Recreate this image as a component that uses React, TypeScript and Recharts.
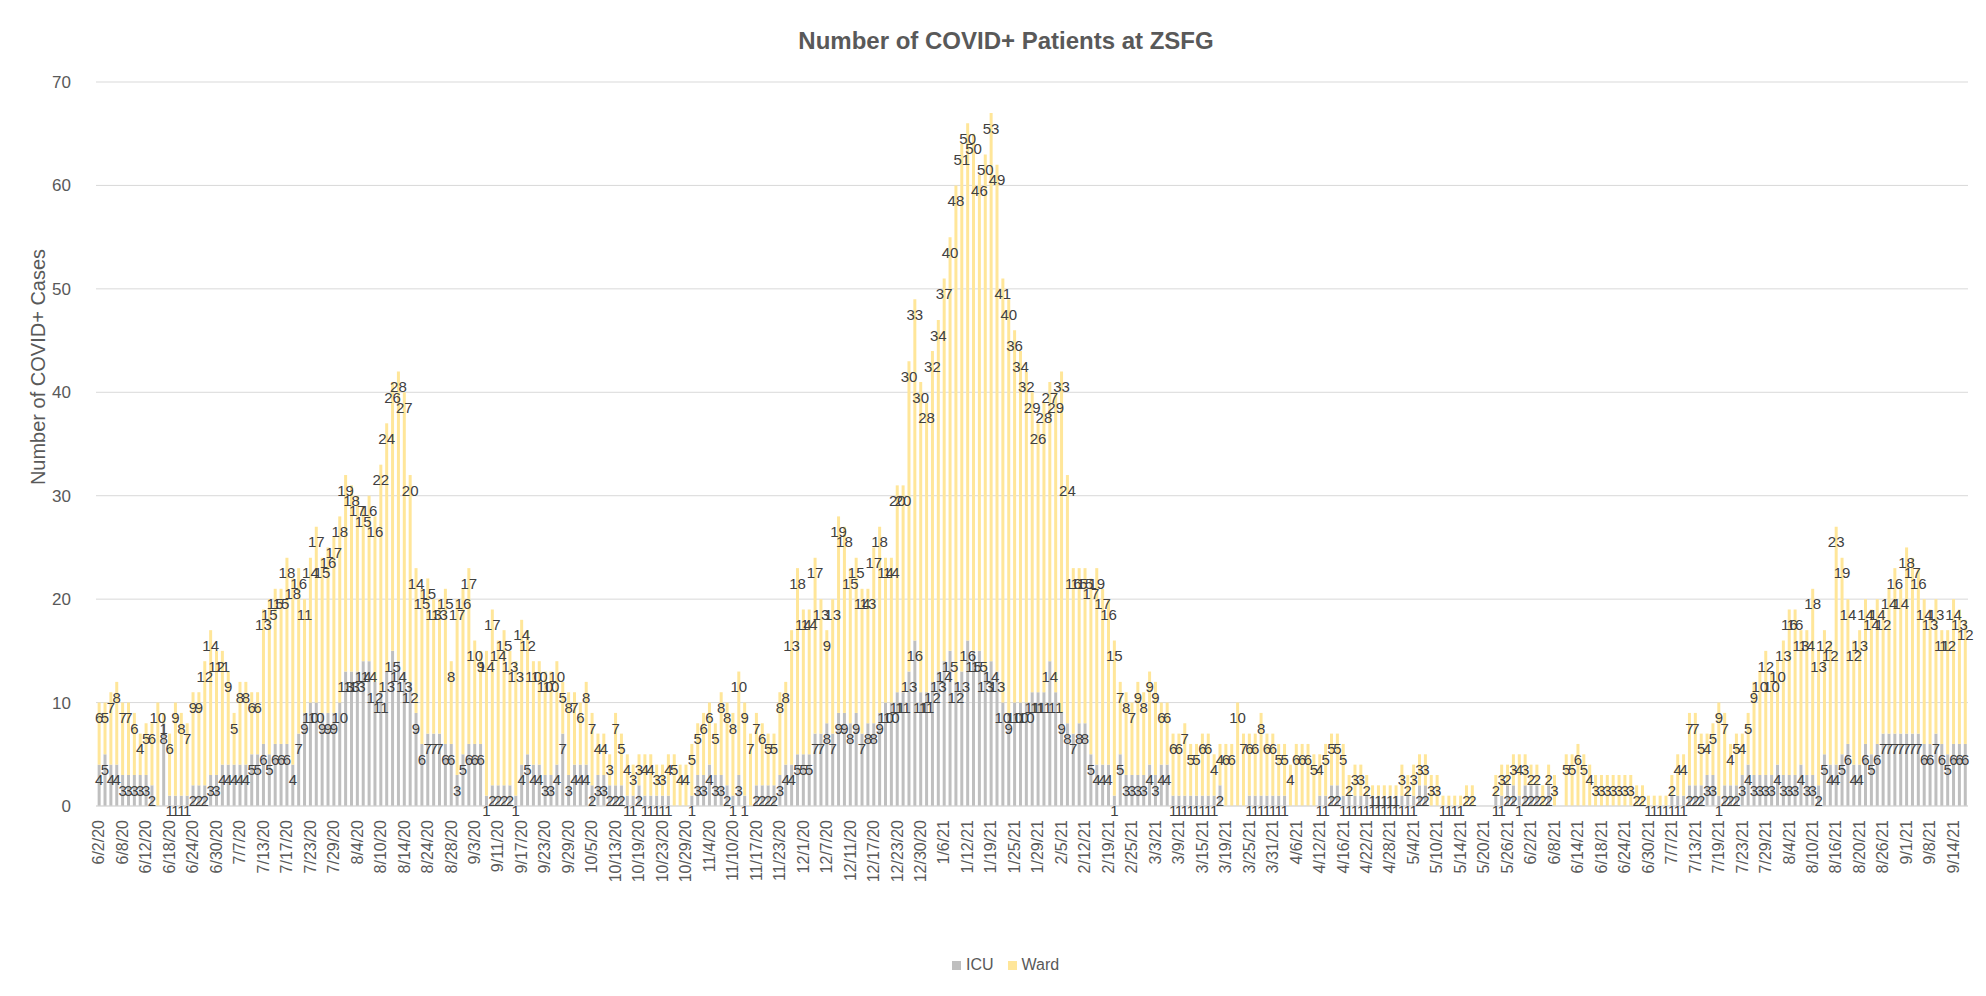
import { BarChart, Bar, XAxis, YAxis, CartesianGrid, LabelList } from 'recharts';

// weekdays from 6/2/20 to 9/16/21, minus days with no report
const firstDay = Date.UTC(2020, 5, 2);
const lastDay = Date.UTC(2021, 8, 16);
const skippedDays = [
  '2020-07-03', '2020-08-17', '2020-08-18', '2020-09-04', '2020-09-07', '2020-10-09', '2020-10-12',
  '2020-11-11', '2020-11-26', '2020-11-27', '2020-12-25', '2021-01-01', '2021-01-18', '2021-02-04',
  '2021-02-11', '2021-02-15', '2021-05-31', '2021-07-05', '2021-09-06',
];

const icu = [
  4, 5, 4, 4, 3, 3, 3, 3, 3, 2,
  0, 8, 1, 1, 1, 1, 2, 2, 2, 3,
  3, 4, 4, 4, 4, 4, 5, 5, 6, 5,
  6, 6, 6, 4, 7, 9, 10, 10, 9, 9,
  9, 10, 13, 13, 13, 14, 14, 12, 11, 13,
  15, 14, 13, 12, 9, 6, 7, 7, 7, 6,
  6, 3, 5, 6, 6, 6, 1, 2, 2, 2,
  2, 1, 4, 5, 4, 4, 3, 3, 4, 7,
  3, 4, 4, 4, 2, 3, 3, 2, 2, 2,
  1, 1, 2, 1, 1, 1, 1, 1, 0, 0,
  0, 1, 3, 3, 4, 3, 3, 2, 1, 3,
  1, 0, 2, 2, 2, 2, 3, 4, 4, 5,
  5, 5, 7, 7, 8, 7, 9, 9, 8, 9,
  7, 8, 8, 9, 10, 10, 11, 11, 13, 16,
  11, 11, 12, 13, 14, 15, 12, 13, 16, 15,
  15, 13, 14, 13, 10, 9, 10, 10, 10, 11,
  11, 11, 14, 11, 9, 8, 7, 8, 8, 5,
  4, 4, 4, 1, 5, 3, 3, 3, 3, 4,
  3, 4, 4, 1, 1, 1, 1, 1, 1, 1,
  1, 2, 0, 0, 0, 0, 1, 1, 1, 1,
  1, 1, 1, 0, 0, 0, 0, 0, 1, 1,
  2, 2, 1, 1, 1, 1, 1, 1, 1, 1,
  1, 1, 1, 1, 1, 2, 2, 0, 0, 0,
  0, 0, 0, 0, 0, 0, 0, 0, 1, 1,
  2, 2, 1, 2, 2, 2, 0, 2, 0, 0,
  0, 0, 0, 0, 0, 0, 0, 0, 0, 0,
  0, 0, 0, 0, 0, 0, 0, 0, 1, 1,
  1, 2, 2, 2, 3, 3, 1, 2, 2, 2,
  3, 4, 3, 3, 3, 3, 4, 3, 3, 3,
  4, 3, 3, 2, 5, 4, 4, 5, 6, 4,
  4, 6, 5, 6, 7, 7, 7, 7, 7, 7,
  7, 6, 6, 7, 6, 5, 6, 6, 6,
];

const ward = [
  6, 5, 7, 8, 7, 7, 6, 4, 5, 6,
  10, 1, 6, 9, 8, 7, 9, 9, 12, 14,
  12, 11, 9, 5, 8, 8, 6, 6, 13, 15,
  15, 15, 18, 18, 16, 11, 14, 17, 15, 16,
  17, 18, 19, 18, 17, 15, 16, 16, 22, 24,
  26, 28, 27, 20, 14, 15, 15, 13, 13, 15,
  8, 17, 16, 17, 10, 9, 14, 17, 14, 15,
  13, 13, 14, 12, 10, 10, 10, 10, 10, 5,
  8, 7, 6, 8, 7, 4, 4, 3, 7, 5,
  4, 3, 3, 4, 4, 3, 3, 4, 5, 4,
  4, 5, 5, 6, 6, 5, 8, 8, 8, 10,
  9, 7, 7, 6, 5, 5, 8, 8, 13, 18,
  14, 14, 17, 13, 9, 13, 19, 18, 15, 15,
  14, 13, 17, 18, 14, 14, 20, 20, 30, 33,
  30, 28, 32, 34, 37, 40, 48, 51, 50, 50,
  46, 50, 53, 49, 41, 40, 36, 34, 32, 29,
  26, 28, 27, 29, 33, 24, 16, 15, 15, 17,
  19, 17, 16, 15, 7, 8, 7, 9, 8, 9,
  9, 6, 6, 6, 6, 7, 5, 5, 6, 6,
  4, 4, 6, 6, 10, 7, 6, 6, 8, 6,
  6, 5, 5, 4, 6, 6, 6, 5, 4, 5,
  5, 5, 5, 2, 3, 3, 2, 1, 1, 1,
  1, 1, 3, 2, 3, 3, 3, 3, 3, 1,
  1, 1, 1, 2, 2, 0, 0, 0, 2, 3,
  2, 3, 4, 3, 2, 2, 2, 2, 3, 0,
  5, 5, 6, 5, 4, 3, 3, 3, 3, 3,
  3, 3, 2, 2, 1, 1, 1, 1, 2, 4,
  4, 7, 7, 5, 4, 5, 9, 7, 4, 5,
  4, 5, 9, 10, 12, 10, 10, 13, 16, 16,
  13, 14, 18, 13, 12, 12, 23, 19, 14, 12,
  13, 14, 14, 14, 12, 14, 16, 14, 18, 17,
  16, 14, 13, 13, 11, 12, 14, 13, 12,
];

const yTicks = [0, 10, 20, 30, 40, 50, 60, 70];

const dates: string[] = [];
for (let t = firstDay; t <= lastDay; t += 86400000) {
  const d = new Date(t);
  const dow = d.getUTCDay();
  if (dow === 0 || dow === 6) continue;
  if (skippedDays.includes(d.toISOString().slice(0, 10))) continue;
  dates.push(`${d.getUTCMonth() + 1}/${d.getUTCDate()}/${String(d.getUTCFullYear()).slice(2)}`);
}

const data = dates.map((date, i) => ({ date, ICU: icu[i] ?? 0, Ward: ward[i] ?? 0 }));

const font = "'Liberation Sans', Arial, sans-serif";

const DateTick = ({ x, y, payload }: any) => (
  <text
    x={x}
    y={y + 14}
    transform={`rotate(-90 ${x} ${y + 14})`}
    textAnchor="end"
    dominantBaseline="central"
    fontSize={16}
    fontFamily={font}
    fill="#595959"
  >
    {payload.value}
  </text>
);

const App = () => {
  return (
    <div style={{ position: 'relative', width: 1970, height: 985, fontFamily: font, background: '#fff' }}>
      <div
        style={{
          position: 'absolute', left: 0, width: 1996, top: 19, textAlign: 'center',
          fontSize: 24, fontWeight: 'bold', color: '#595959',
        }}
      >
        Number of COVID+ Patients at ZSFG
      </div>
      <div
        style={{
          position: 'absolute', left: 30, top: 359, transform: 'translate(-50%, -50%) rotate(-90deg)',
          whiteSpace: 'nowrap', fontSize: 20, color: '#595959',
        }}
      >
        Number of COVID+ Cases
      </div>
      <BarChart
        width={1970}
        height={985}
        data={data}
        margin={{ top: 74, right: 10, left: 28, bottom: 87 }}
        barCategoryGap="28%"
      >
        <CartesianGrid vertical={false} stroke="#d9d9d9" />
        <XAxis
          dataKey="date"
          interval={3}
          tick={<DateTick />}
          tickLine={false}
          tickSize={0}
          tickMargin={0}
          height={100}
          axisLine={{ stroke: '#d9d9d9' }}
        />
        <YAxis
          domain={[0, 70]}
          ticks={yTicks}
          width={60}
          axisLine={false}
          tickLine={false}
          tickSize={0}
          tickMargin={25}
          tick={{ fontSize: 17, fill: '#595959', fontFamily: font }}
        />
        <Bar dataKey="ICU" stackId="a" fill="#BFBFBF" isAnimationActive={false}>
          <LabelList dataKey="ICU" position="insideTop" offset={10} fontSize={15} fill="#404040" fontFamily={font} />
        </Bar>
        <Bar dataKey="Ward" stackId="a" fill="#FFE699" isAnimationActive={false}>
          <LabelList dataKey="Ward" position="insideTop" offset={10} fontSize={15} fill="#404040" fontFamily={font} />
        </Bar>
      </BarChart>
      <div
        style={{
          position: 'absolute', left: 944, top: 948, display: 'flex', alignItems: 'center',
          fontSize: 16, color: '#595959',
        }}
      >
        <span style={{ width: 9, height: 9, background: '#BFBFBF', display: 'inline-block', marginRight: 5 }} />
        <span style={{ marginRight: 14 }}>ICU</span>
        <span style={{ width: 9, height: 9, background: '#FFE699', display: 'inline-block', marginRight: 5 }} />
        <span>Ward</span>
      </div>
    </div>
  );
};

export default App;
